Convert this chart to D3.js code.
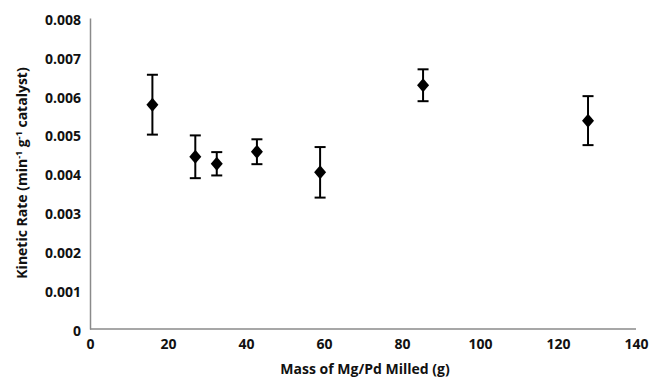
<!DOCTYPE html>
<html>
<head>
<meta charset="utf-8">
<script src="https://cdn.jsdelivr.net/npm/d3@7"></script>
<style>
  body { margin: 0; background: #fff; }
  text { font-family: "Open Sans", "Liberation Sans", sans-serif; font-weight: bold; fill: #111; }
</style>
</head>
<body>
<svg id="chart" width="655" height="380"></svg>
<script>
// mass milled (g) and kinetic rate
const massMilled = [16, 27, 32.5, 42.8, 59, 85.4, 127.7];
const kineticRate = [0.00577, 0.00443, 0.00425, 0.00456, 0.00403, 0.00627, 0.00536];
const rateError = [0.00077, 0.00055, 0.00030, 0.00032, 0.00065, 0.00041, 0.00063];

const xTicks = [0, 20, 40, 60, 80, 100, 120, 140];
const yTicks = [0, 0.001, 0.002, 0.003, 0.004, 0.005, 0.006, 0.007, 0.008];

const points = massMilled.map((m, i) => ({ x: m, y: kineticRate[i], err: rateError[i] }));

const svg = d3.select('#chart');
const margin = { left: 90, right: 19, top: 18, bottom: 51 };
const width = 655 - margin.left - margin.right;
const height = 380 - margin.top - margin.bottom;

const x = d3.scaleLinear().domain([0, 140]).range([0, 546]);
const y = d3.scaleLinear().domain([0, 0.008]).range([height, 0]);

const g = svg.append('g').attr('transform', `translate(${margin.left},${margin.top})`);

// axes, no tick marks
const xAxis = g.append('g')
    .attr('transform', `translate(0,${height})`)
    .call(d3.axisBottom(x).tickValues(xTicks).tickSize(0).tickPadding(10).tickFormat(d3.format('d')));
xAxis.select('.domain').attr('d', `M0,0H${width}`).attr('stroke', '#8a8a8a').attr('stroke-width', 1.5);
xAxis.selectAll('text').attr('font-size', 14).style('font-family', null);

const yAxis = g.append('g')
    .call(d3.axisLeft(y).tickValues(yTicks).tickSize(0).tickPadding(9)
      .tickFormat(d => d === 0 ? '0' : d3.format('.3f')(d)));
yAxis.select('.domain').attr('stroke', '#8a8a8a').attr('stroke-width', 1.5);
yAxis.selectAll('text').attr('font-size', 14).attr('dy', '0.45em').style('font-family', null);

// error bars
const bars = g.append('g')
    .attr('stroke', '#000')
    .attr('stroke-width', 2)
    .selectAll('g')
    .data(points)
    .join('g');

bars.append('line')
    .attr('x1', d => x(d.x)).attr('x2', d => x(d.x))
    .attr('y1', d => y(d.y + d.err)).attr('y2', d => y(d.y - d.err));
bars.append('line')
    .attr('x1', d => x(d.x) - 5.5).attr('x2', d => x(d.x) + 5.5)
    .attr('y1', d => y(d.y + d.err)).attr('y2', d => y(d.y + d.err));
bars.append('line')
    .attr('x1', d => x(d.x) - 5.5).attr('x2', d => x(d.x) + 5.5)
    .attr('y1', d => y(d.y - d.err)).attr('y2', d => y(d.y - d.err));

// diamond markers
g.append('g')
    .selectAll('path')
    .data(points)
    .join('path')
    .attr('transform', d => `translate(${x(d.x)},${y(d.y)})`)
    .attr('d', 'M0,-7L6,0L0,7L-6,0Z')
    .attr('fill', '#000');

// axis titles
svg.append('text')
    .attr('x', 365)
    .attr('y', 374)
    .attr('text-anchor', 'middle')
    .attr('font-size', 14)
    .text('Mass of Mg/Pd Milled (g)');

const yTitle = svg.append('text')
    .attr('transform', 'translate(27,173) rotate(-90)')
    .attr('text-anchor', 'middle')
    .attr('font-size', 14);
yTitle.append('tspan').text('Kinetic Rate (min');
yTitle.append('tspan').attr('font-size', 9).attr('dy', -5).text('-1');
yTitle.append('tspan').attr('dy', 5).text(' g');
yTitle.append('tspan').attr('font-size', 9).attr('dy', -5).text('-1');
yTitle.append('tspan').attr('dy', 5).text(' catalyst)');
</script>
</body>
</html>
